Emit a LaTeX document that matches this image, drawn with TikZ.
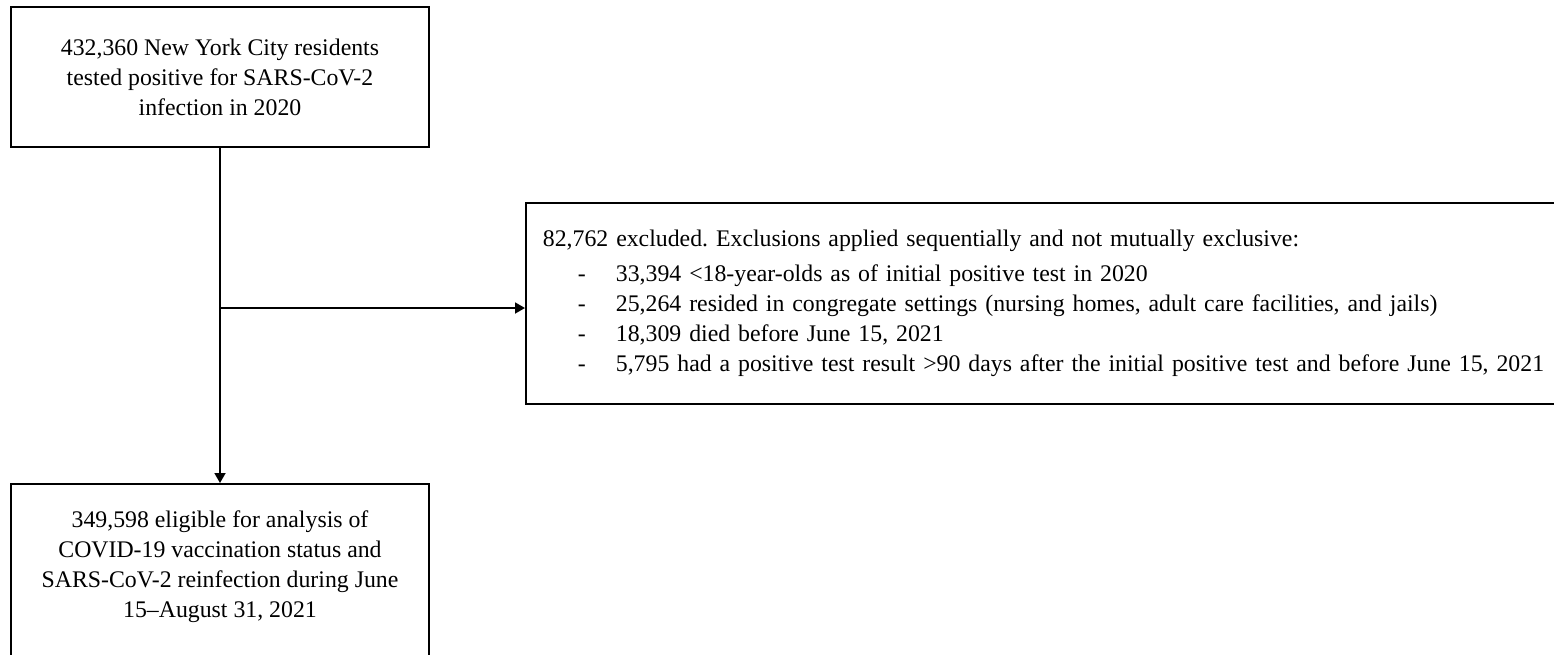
\documentclass[tikz,border=0pt]{standalone}
\usepackage{fontspec}
\setmainfont{Liberation Serif}
\usetikzlibrary{arrows.meta, positioning, calc}

\newcommand{\exitem}[1]{\makebox[36.5pt][l]{\hspace*{17.5pt}-}#1}

\begin{document}
\begin{tikzpicture}[x=1pt, y=1pt,
    boxfont/.style={font=\fontsize{11.9}{15}\selectfont\frenchspacing},
    flowbox/.style={draw, line width=0.9pt, align=center, inner sep=3pt, boxfont},
    flowarrow/.style={line width=0.9pt, -{Triangle[length=5pt, width=5.5pt]}}]
    \clip (0,0) rectangle (777,-327);

    % Cohort boxes
    \node[flowbox, minimum width=209pt, minimum height=70pt] (cohort) at (110,-38.5)
        {432,360 New York City residents\\tested positive for SARS-CoV-2\\infection in 2020};
    \node[flowbox, anchor=north, minimum width=209pt, minimum height=95pt] (eligible)
        at (110,-241.5) {};
    \node[boxfont, align=center] (eligibletext) at ($(eligible.north)+(0,-42)$)
        {349,598 eligible for analysis of\\COVID-19 vaccination status and\\SARS-CoV-2 reinfection during June\\15--August 31, 2021};

    % Exclusions
    \node[flowbox, align=left, anchor=west, inner xsep=8.5pt, text width=520pt,
        minimum height=100.5pt] (excluded) at (262.5,-151.75)
        {82,762 excluded. Exclusions applied sequentially and not mutually exclusive:\\[2.5pt]
         \exitem{33,394 <18-year-olds as of initial positive test in 2020}\\
         \exitem{25,264 resided in congregate settings (nursing homes, adult care facilities, and jails)}\\
         \exitem{18,309 died before June 15, 2021}\\
         \exitem{5,795 had a positive test result >90 days after the initial positive test and before June 15, 2021}};

    \coordinate (branch) at (cohort.south |- 0,-154);
    \draw[flowarrow] (cohort.south) -- (eligible.north);
    \draw[flowarrow] (branch) -- (branch -| excluded.west);
\end{tikzpicture}
\end{document}
